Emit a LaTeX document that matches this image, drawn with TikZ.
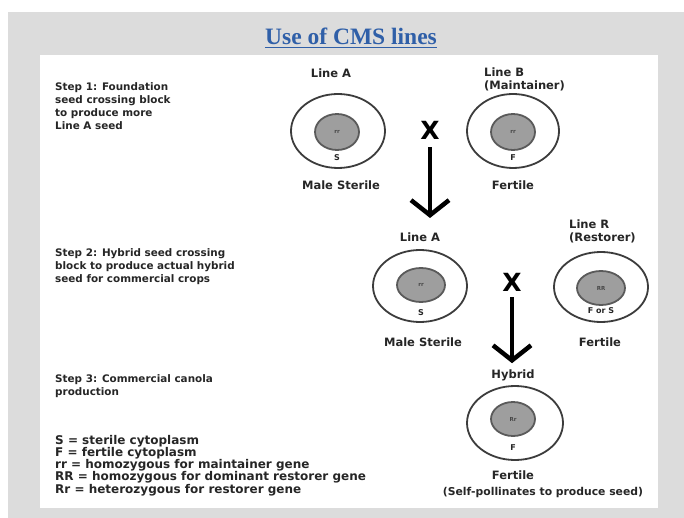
\documentclass[tikz,border=0pt]{standalone}
\usepackage{fontspec}
\setmainfont{DejaVu Sans}
\newfontfamily\titlefont{Liberation Serif}
\usetikzlibrary{arrows.meta,shapes.geometric}
\definecolor{titleblue}{HTML}{2F5FA8}
\definecolor{panelgrey}{HTML}{DCDCDC}
\definecolor{seedfill}{HTML}{9E9E9E}
\definecolor{seedring}{HTML}{5A5A5A}
\definecolor{inkgrey}{HTML}{262626}
\tikzset{
  seedcoat/.style={ellipse, draw=inkgrey!90, line width=1.8pt, inner sep=0pt},
  embryo/.style={ellipse, fill=seedfill, draw=seedring, line width=1.8pt, inner sep=0pt,
    text=inkgrey!85, font=\bfseries\fontsize{5.5}{6}\selectfont},
  cyto/.style={text=inkgrey, font=\bfseries\fontsize{8}{9}\selectfont, inner sep=0pt},
  linelabel/.style={text=inkgrey, font=\bfseries\fontsize{11.5}{13}\selectfont, inner sep=0pt},
  steptext/.style={text=inkgrey, font=\bfseries\fontsize{10.4}{13.2}\selectfont, align=left,
    anchor=north west, inner sep=0pt},
  crossmark/.style={text=black, font=\bfseries\fontsize{25}{25}\selectfont, inner sep=0pt},
  bigarrow/.style={line width=4.5pt, draw=black,
    -{Straight Barb[length=15pt,width=38pt]}},
}
\begin{document}
\begin{tikzpicture}[x=1pt,y=-1pt]
\useasboundingbox (0,0) rectangle (684,518);
% page, grey frame and white sheet
\fill[white] (0,0) rectangle (684,518);
\fill[panelgrey] (8,12) rectangle (684,518);
\fill[white] (40,55) rectangle (658,508);

% title
\node[text=titleblue, font=\titlefont\bfseries\fontsize{23.5}{25}\selectfont, inner sep=0pt]
  (title) at (351,36) {Use of CMS lines};
\draw[titleblue, line width=1pt] ([yshift=-3pt]title.base west) -- ([yshift=-3pt]title.base east);

% step descriptions
\node[steptext] (step1) at (55,82) {Step 1: Foundation\\seed crossing block\\to produce more\\Line A seed};
\node[steptext] (step2) at (55,248) {Step 2: Hybrid seed crossing\\block to produce actual hybrid\\seed for commercial crops};
\node[steptext] (step3) at (55,374) {Step 3: Commercial canola\\production};
\node[steptext, font=\bfseries\fontsize{12}{12.2}\selectfont] (legend) at (55,435)
  {S = sterile cytoplasm\\F = fertile cytoplasm\\rr = homozygous for maintainer gene\\RR = homozygous for dominant restorer gene\\Rr = heterozygous for restorer gene};

% step 1: Line A x Line B
\node[linelabel] (lblA1) at (331,73) {Line A};
\node[seedcoat, minimum width=94pt, minimum height=74pt] (coatA1) at (338,131) {};
\node[embryo, minimum width=44pt, minimum height=36pt] (embA1) at (337,132) {rr};
\node[cyto] (cytA1) at (337,158) {S};
\node[linelabel] (phenA1) at (341,185) {Male Sterile};

\node[linelabel, align=left, anchor=west] (lblB) at (484,79.5) {Line B\\(Maintainer)};
\node[seedcoat, minimum width=92pt, minimum height=74pt] (coatB) at (513,131) {};
\node[embryo, minimum width=44pt, minimum height=36pt] (embB) at (513,132) {rr};
\node[cyto] (cytB) at (513,158) {F};
\node[linelabel] (phenB) at (513,185) {Fertile};

\node[crossmark] (x1) at (430,130) {X};
\coordinate (tip1) at (430,218);
\draw[bigarrow] ([yshift=-8pt]x1.south) -- (tip1);

% step 2: Line A x Line R
\node[linelabel] (lblA2) at (420,237) {Line A};
\node[seedcoat, minimum width=94pt, minimum height=72pt] (coatA2) at (420,286) {};
\node[embryo, minimum width=48pt, minimum height=34pt] (embA2) at (421,285) {rr};
\node[cyto] (cytA2) at (421,313) {S};
\node[linelabel] (phenA2) at (423,342) {Male Sterile};

\node[linelabel, align=left, anchor=west] (lblR) at (569,231.5) {Line R\\(Restorer)};
\node[seedcoat, minimum width=94pt, minimum height=70pt] (coatR) at (601,287) {};
\node[embryo, minimum width=48pt, minimum height=34pt] (embR) at (601,288) {RR};
\node[cyto] (cytR) at (601,311) {F or S};
\node[linelabel] (phenR) at (600,342) {Fertile};

\node[crossmark] (x2) at (512,282) {X};
\node[linelabel] (hyb) at (513,375) {Hybrid};
\draw[bigarrow] ([yshift=-6pt]x2.south) -- ([yshift=6pt]x2.south |- hyb.north);

% step 3: hybrid seed
\node[seedcoat, minimum width=96pt, minimum height=74pt] (coatH) at (515,423) {};
\node[embryo, minimum width=44pt, minimum height=34pt] (embH) at (513,419) {Rr};
\node[cyto] (cytH) at (513,448) {F};
\node[linelabel] (phenH) at (513,475) {Fertile};
\node[linelabel, font=\bfseries\fontsize{10.8}{12}\selectfont] (selfp) at (543,493) {(Self-pollinates to produce seed)};
\end{tikzpicture}
\end{document}
